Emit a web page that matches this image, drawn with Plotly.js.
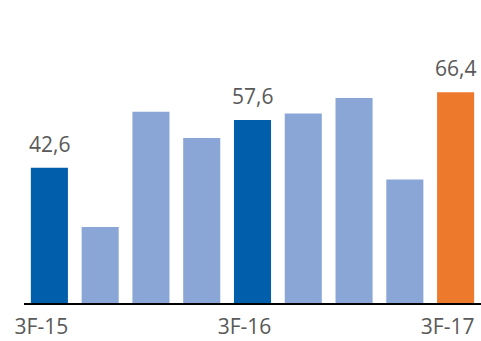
<!DOCTYPE html>
<html>
<head>
<meta charset="utf-8">
<script src="https://cdn.plot.ly/plotly-3.0.1.min.js"></script>
<style>html,body{margin:0;padding:0;background:#fff;}#chart{width:481px;height:341px;}</style>
</head>
<body>
<div id="chart"></div>
<script>
const categories = ["3F-15","4F-15","1F-16","2F-16","3F-16","4F-16","1F-17","2F-17","3F-17"];
const values = [42.6, 23.9, 60.2, 52.0, 57.6, 59.7, 64.6, 38.9, 66.4];
const barColors = ["#005EAB","#8AA6D6","#8AA6D6","#8AA6D6","#005EAB","#8AA6D6","#8AA6D6","#8AA6D6","#ED7A2C"];
const labelledCategories = ["3F-15","3F-16","3F-17"];
const tickLabels = ["3F-15","3F-16","3F-17"];

const fontFamily = "'Open Sans', 'Noto Sans', sans-serif";
const grey = "#595959";

const annotations = categories.map((c, i) => labelledCategories.includes(c) ? {
  x: c, y: values[i], xref: 'x', yref: 'y',
  text: values[i].toFixed(1).replace('.', ','),
  showarrow: false, yanchor: 'bottom', xanchor: 'center', yshift: 8,
  font: {family: fontFamily, size: 21, color: grey}
} : null).filter(a => a);

Plotly.newPlot('chart', [{
  type: 'bar',
  x: categories,
  y: values,
  marker: {color: barColors},
  hoverinfo: 'none'
}], {
  width: 481, height: 341,
  margin: {l: 24, r: 0, t: 49, b: 38},
  paper_bgcolor: '#ffffff', plot_bgcolor: '#ffffff',
  bargap: 0.27,
  showlegend: false,
  xaxis: {
    type: 'category',
    range: [-0.5, 8.5],
    tickvals: labelledCategories,
    ticktext: tickLabels,
    ticks: '',
    showline: true, linecolor: '#000000', linewidth: 1.5,
    showgrid: false, zeroline: false,
    ticklabelshift: -8,
    ticklabelstandoff: 4,
    tickfont: {family: fontFamily, size: 21, color: grey}
  },
  yaxis: {range: [0, 80], visible: false, showgrid: false, zeroline: false},
  annotations: annotations
}, {staticPlot: true, displayModeBar: false});
</script>
</body>
</html>
